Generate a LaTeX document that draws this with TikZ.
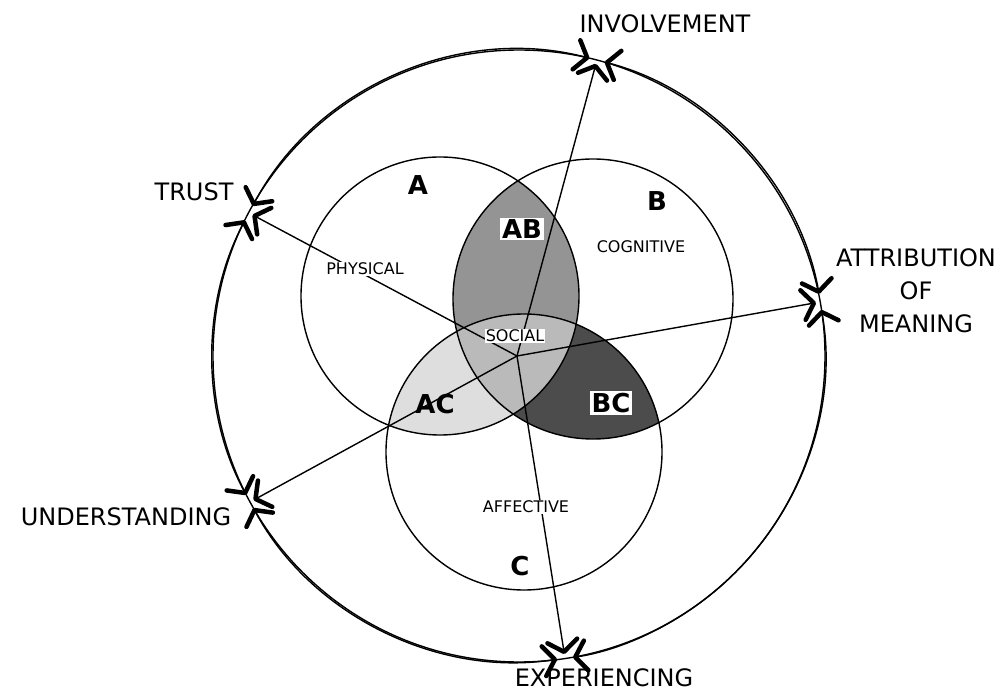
\documentclass[tikz,border=0pt]{standalone}
\usepackage{fontspec}
\setmainfont{DejaVu Sans}
\usetikzlibrary{arrows.meta}
\tikzset{
  vtip/.tip={Straight Barb[length=11pt,width=30pt,line width=4.5pt 0 1,round]},
  ring/.style={line width=1.4pt},
  spoke/.style={line width=1.4pt,-vtip,shorten >=4pt},
  rim/.style={line width=1.4pt,vtip-vtip,shorten >=8pt,shorten <=8pt},
  outer/.style={font=\fontsize{24}{33}\selectfont,inner sep=1pt},
  setname/.style={font=\fontsize{26}{30}\selectfont\bfseries,inner sep=2pt},
  small/.style={font=\fontsize{16}{18}\selectfont,inner sep=1pt},
  boxed/.style={fill=white}
}

\begin{document}
\begin{tikzpicture}[x=1pt,y=-1pt]
\useasboundingbox (0,0) rectangle (1007,692);
\coordinate (O) at (519,356);
\coordinate (hub) at (517,356);
\coordinate (ca) at (440,296);
\coordinate (cb) at (593,299);
\coordinate (cc) at (524,452);
\coordinate (inv) at (597,60);
\coordinate (attr) at (820,302);
\coordinate (exp) at (565,658);
\coordinate (und) at (250,502);
\coordinate (trust) at (249,213);

\begin{scope}
\clip (ca) circle (139);
\fill[black!42] (cb) circle (140);
\fill[black!13] (cc) circle (138);
\end{scope}
\begin{scope}
\clip (cb) circle (140);
\fill[black!70] (cc) circle (138);
\end{scope}
\begin{scope}
\clip (ca) circle (139);
\clip (cb) circle (140);
\fill[black!27] (cc) circle (138);
\end{scope}

\draw[ring] (ca) circle (139);
\draw[ring] (cb) circle (140);
\draw[ring] (cc) circle (138);
\draw[ring] (O) circle (306);

\draw[rim] (inv) arc[start angle=-75.3, end angle=-10.2, radius=306];
\draw[rim] (attr) arc[start angle=-10.2, end angle=81.3, radius=306];
\draw[rim] (exp) arc[start angle=81.3, end angle=151.6, radius=306];
\draw[rim] (und) arc[start angle=151.6, end angle=207.9, radius=306];
\draw[rim] (trust) arc[start angle=207.9, end angle=284.7, radius=306];

\draw[spoke] (hub) -- (inv);
\draw[spoke] (hub) -- (attr);
\draw[spoke] (hub) -- (exp);
\draw[spoke] (hub) -- (und);
\draw[spoke] (hub) -- (trust);

\node[outer] (tinv) at (665,24) {INVOLVEMENT};
\node[outer] (ttrust) at (194,192) {TRUST};
\node[outer,align=center] (tattr) at (916,291) {ATTRIBUTION\\OF\\MEANING};
\node[outer] (tund) at (126,517) {UNDERSTANDING};
\node[outer] (texp) at (604,678) {EXPERIENCING};

\node[setname] (la) at (418,185) {A};
\node[setname] (lb) at (657,201) {B};
\node[setname] (lc) at (520,566) {C};
\node[setname,boxed] (lab) at (522,229) {AB};
\node[setname] (lac) at (435,404) {AC};
\node[setname,boxed] (lbc) at (611,403) {BC};

\node[small,boxed] (social) at (515,336) {SOCIAL};
\node[small,boxed] (phys) at (365,269) {PHYSICAL};
\node[small] (cogn) at (641,247) {COGNITIVE};
\node[small,boxed] (affect) at (526,507) {AFFECTIVE};
\end{tikzpicture}
\end{document}
